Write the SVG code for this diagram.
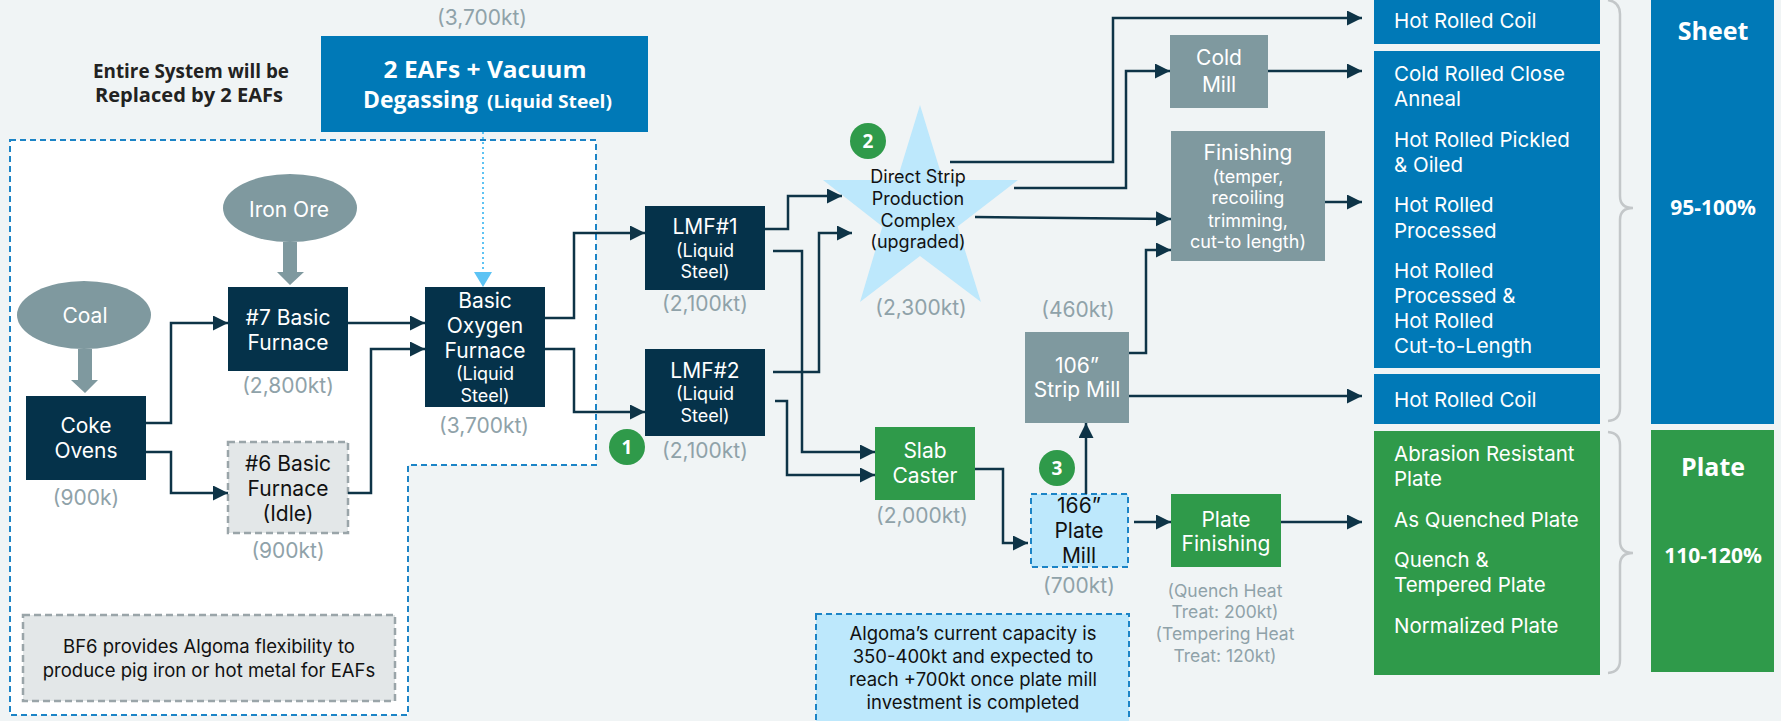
<svg xmlns="http://www.w3.org/2000/svg" width="1781" height="721" viewBox="0 0 1781 721">
<defs>
<style>
.lbl{font-family:Inter,"Noto Sans",sans-serif;font-size:21px;fill:#fff;text-anchor:middle}
.sub{font-size:18px}
.dk{fill:#111}
.cap{font-family:Inter,"Noto Sans",sans-serif;font-size:21px;fill:#8fa2a9;text-anchor:middle}
.capS{font-family:Inter,"Noto Sans",sans-serif;font-size:17.5px;fill:#8fa2a9;text-anchor:middle}
.navy{fill:#05324a}
.grayb{fill:#7f999f}
.green{fill:#2f9a4a}
.blue{fill:#0079b7}
.lblue{fill:#bde8fc}
.conn{fill:none;stroke:#0e3447;stroke-width:2.5;marker-end:url(#ah)}
.prod{font-family:Inter,"Noto Sans",sans-serif;font-size:20.5px;fill:#fff}
.bold{font-family:"Open Sans",sans-serif;font-weight:700;text-anchor:middle}
.num{font-family:"Open Sans",sans-serif;font-weight:700;font-size:19px;fill:#fff;text-anchor:middle}
.note{font-family:Inter,"Noto Sans",sans-serif;font-size:18.5px;fill:#111;text-anchor:middle}
.brace{fill:none;stroke:#c3c7c9;stroke-width:2.5}
.dashB{stroke:#1c84c6;stroke-width:2;stroke-dasharray:6 4}
.dashG{fill:#e3e7e8;stroke:#9aa5a9;stroke-width:2.5;stroke-dasharray:7 4}
</style>
<marker id="ah" markerUnits="userSpaceOnUse" markerWidth="16" markerHeight="16" refX="15" refY="7.5" orient="auto"><path d="M0,0L15,7.5L0,15z" fill="#0e3447"/></marker>
</defs>
<rect width="1781" height="721" fill="#f0f4f5"/>

<g id="system-boundary">
<path d="M10,140 H596 V465 H408 V715 H10 Z" fill="#fff" class="dashB"/>
</g>

<g id="replace-label">
<text class="bold" x="191" y="78" font-size="19.5" fill="#222" textLength="196" lengthAdjust="spacingAndGlyphs">Entire System will be</text>
<text class="bold" x="189" y="102" font-size="19.5" fill="#222" textLength="188" lengthAdjust="spacingAndGlyphs">Replaced by 2 EAFs</text>
</g>

<g id="eaf">
<text class="cap" x="482" y="25">(3,700kt)</text>
<rect x="321" y="36" width="327" height="96" class="blue"/>
<text class="bold" x="485" y="78" font-size="23" fill="#fff" textLength="203" lengthAdjust="spacingAndGlyphs">2 EAFs + Vacuum</text>
<text x="363" y="108" font-family="'Open Sans',sans-serif" font-weight="700" font-size="23" fill="#fff" textLength="115" lengthAdjust="spacingAndGlyphs">Degassing</text>
<text x="487" y="108" font-family="'Open Sans',sans-serif" font-weight="700" font-size="18" fill="#fff" textLength="125" lengthAdjust="spacingAndGlyphs">(Liquid Steel)</text>
</g>

<g id="eaf-link">
<line x1="483" y1="132" x2="483" y2="274" stroke="#5cc3f4" stroke-width="2" stroke-dasharray="2 3"/>
<path d="M474,272 L492,272 L483,287 Z" fill="#5cc3f4"/>
</g>

<g id="coal">
<ellipse cx="84" cy="315" rx="67" ry="34" class="grayb"/>
<text class="lbl" x="85" y="323">Coal</text>
<path d="M78,349 H92 V380 H98 L85,393 L71,380 H78 Z" class="grayb"/>
</g>

<g id="iron-ore">
<ellipse cx="290" cy="208" rx="67" ry="34" class="grayb"/>
<text class="lbl" x="289" y="217">Iron Ore</text>
<path d="M283,242 H297 V272 H304 L290,285 L277,272 H283 Z" class="grayb"/>
</g>

<g id="coke-ovens">
<rect x="26" y="396" width="120" height="84" class="navy"/>
<text class="lbl"><tspan x="86" y="433">Coke</tspan><tspan x="86" y="458">Ovens</tspan></text>
<text class="cap" x="86" y="505">(900k)</text>
</g>

<g id="bf7">
<rect x="228" y="287" width="120" height="84" class="navy"/>
<text class="lbl"><tspan x="288" y="325">#7 Basic</tspan><tspan x="288" y="350">Furnace</tspan></text>
<text class="cap" x="288" y="393">(2,800kt)</text>
</g>

<g id="bf6">
<rect x="228" y="442" width="120" height="91" class="dashG"/>
<text class="lbl dk"><tspan x="288" y="471">#6 Basic</tspan><tspan x="288" y="496">Furnace</tspan><tspan x="288" y="521">(Idle)</tspan></text>
<text class="cap" x="288" y="558">(900kt)</text>
</g>

<g id="bof">
<rect x="425" y="287" width="120" height="120" class="navy"/>
<text class="lbl"><tspan x="485" y="308">Basic</tspan><tspan x="485" y="333">Oxygen</tspan><tspan x="485" y="358">Furnace</tspan><tspan x="485" y="380" class="sub">(Liquid</tspan><tspan x="485" y="402" class="sub">Steel)</tspan></text>
<text class="cap" x="484" y="433">(3,700kt)</text>
</g>

<g id="bf6-note">
<rect x="23" y="615" width="372" height="86" class="dashG"/>
<text class="note"><tspan x="209" y="653">BF6 provides Algoma flexibility to</tspan><tspan x="209" y="677">produce pig iron or hot metal for EAFs</tspan></text>
</g>

<g id="lmf1">
<rect x="645" y="206" width="120" height="84" class="navy"/>
<text class="lbl"><tspan x="705" y="234">LMF#1</tspan><tspan x="705" y="257" class="sub">(Liquid</tspan><tspan x="705" y="278" class="sub">Steel)</tspan></text>
<text class="cap" x="705" y="311">(2,100kt)</text>
</g>

<g id="lmf2">
<rect x="645" y="349" width="120" height="87" class="navy"/>
<text class="lbl"><tspan x="705" y="378">LMF#2</tspan><tspan x="705" y="400" class="sub">(Liquid</tspan><tspan x="705" y="422" class="sub">Steel)</tspan></text>
<text class="cap" x="705" y="458">(2,100kt)</text>
<circle cx="627" cy="447" r="18" class="green"/>
<text class="num" x="627" y="454">1</text>
</g>

<g id="dspc">
<polygon points="920,105 943,180 1018,180 957.6,226.6 981,302 920,256 860,302 882.4,226.6 823,180 897,180" class="lblue"/>
<text class="lbl dk sub"><tspan x="918" y="183">Direct Strip</tspan><tspan x="918" y="205">Production</tspan><tspan x="918" y="227">Complex</tspan><tspan x="918" y="248">(upgraded)</tspan></text>
<text class="cap" x="921" y="315">(2,300kt)</text>
<circle cx="868" cy="141" r="18" class="green"/>
<text class="num" x="868" y="148">2</text>
</g>

<g id="cold-mill">
<rect x="1170" y="35" width="98" height="73" class="grayb"/>
<text class="lbl"><tspan x="1219" y="65">Cold</tspan><tspan x="1219" y="92">Mill</tspan></text>
</g>

<g id="finishing">
<rect x="1171" y="131" width="154" height="130" class="grayb"/>
<text class="lbl"><tspan x="1248" y="160">Finishing</tspan><tspan x="1248" y="183" class="sub">(temper,</tspan><tspan x="1248" y="204" class="sub">recoiling</tspan><tspan x="1248" y="227" class="sub">trimming,</tspan><tspan x="1248" y="248" class="sub">cut-to length)</tspan></text>
</g>

<g id="strip-mill">
<text class="cap" x="1078" y="317">(460kt)</text>
<rect x="1025" y="332" width="104" height="91" class="grayb"/>
<text class="lbl"><tspan x="1077" y="373">106”</tspan><tspan x="1077" y="397">Strip Mill</tspan></text>
</g>

<g id="slab-caster">
<rect x="875" y="427" width="100" height="73" class="green"/>
<text class="lbl"><tspan x="925" y="458">Slab</tspan><tspan x="925" y="483">Caster</tspan></text>
<text class="cap" x="922" y="523">(2,000kt)</text>
</g>

<g id="plate-mill">
<rect x="1031" y="494" width="97" height="73" class="lblue dashB"/>
<text class="lbl dk"><tspan x="1079" y="513">166”</tspan><tspan x="1079" y="538">Plate</tspan><tspan x="1079" y="563">Mill</tspan></text>
<text class="cap" x="1079" y="593">(700kt)</text>
<circle cx="1057" cy="468" r="18" class="green"/>
<text class="num" x="1057" y="475">3</text>
</g>

<g id="plate-finishing">
<rect x="1171" y="494" width="110" height="73" class="green"/>
<text class="lbl"><tspan x="1226" y="527">Plate</tspan><tspan x="1226" y="551">Finishing</tspan></text>
<text class="capS"><tspan x="1225" y="597">(Quench Heat</tspan><tspan x="1225" y="618">Treat: 200kt)</tspan><tspan x="1225" y="640">(Tempering Heat</tspan><tspan x="1225" y="662">Treat: 120kt)</tspan></text>
</g>

<g id="plate-note">
<rect x="816" y="614" width="313" height="120" class="lblue dashB"/>
<text class="note" font-size="19"><tspan x="973" y="640">Algoma’s current capacity is</tspan><tspan x="973" y="663">350-400kt and expected to</tspan><tspan x="973" y="686">reach +700kt once plate mill</tspan><tspan x="973" y="709">investment is completed</tspan></text>
</g>

<g id="hrc-top">
<rect x="1374" y="0" width="226" height="44" class="blue"/>
<text class="prod" x="1394" y="28">Hot Rolled Coil</text>
</g>

<g id="sheet-products">
<rect x="1374" y="51" width="226" height="317" class="blue"/>
<text class="prod"><tspan x="1394" y="81">Cold Rolled Close</tspan><tspan x="1394" y="106">Anneal</tspan><tspan x="1394" y="147">Hot Rolled Pickled</tspan><tspan x="1394" y="172">&amp; Oiled</tspan><tspan x="1394" y="212">Hot Rolled</tspan><tspan x="1394" y="238">Processed</tspan><tspan x="1394" y="278">Hot Rolled</tspan><tspan x="1394" y="303">Processed &amp;</tspan><tspan x="1394" y="328">Hot Rolled</tspan><tspan x="1394" y="353">Cut-to-Length</tspan></text>
</g>

<g id="hrc-bottom">
<rect x="1374" y="374" width="226" height="50" class="blue"/>
<text class="prod" x="1394" y="407">Hot Rolled Coil</text>
</g>

<g id="plate-products">
<rect x="1374" y="431" width="226" height="244" class="green"/>
<text class="prod"><tspan x="1394" y="461">Abrasion Resistant</tspan><tspan x="1394" y="486">Plate</tspan><tspan x="1394" y="527">As Quenched Plate</tspan><tspan x="1394" y="567">Quench &amp;</tspan><tspan x="1394" y="592">Tempered Plate</tspan><tspan x="1394" y="633">Normalized Plate</tspan></text>
</g>

<g id="braces">
<path class="brace" d="M1608,0 Q1620,2 1620,14 V196 Q1620,208 1633,208 Q1620,208 1620,220 V408 Q1620,420 1608,421"/>
<path class="brace" d="M1608,432 Q1620,433 1620,445 V541 Q1620,553 1633,553 Q1620,553 1620,565 V660 Q1620,672 1608,673"/>
</g>

<g id="sheet">
<rect x="1651" y="0" width="123" height="424" class="blue"/>
<text class="bold" x="1713" y="40" font-size="25" fill="#fff">Sheet</text>
<text class="bold" x="1713" y="215" font-size="21" fill="#fff">95-100%</text>
</g>

<g id="plate">
<rect x="1651" y="430" width="123" height="242" class="green"/>
<text class="bold" x="1713" y="476" font-size="25" fill="#fff">Plate</text>
<text class="bold" x="1713" y="563" font-size="21" fill="#fff">110-120%</text>
</g>

<g id="connectors">
<path class="conn" d="M146,423 H171 V323 H228"/>
<path class="conn" d="M146,452 H171 V493 H228"/>
<path class="conn" d="M348,323 H425"/>
<path class="conn" d="M348,493 H371 V349 H425"/>
<path class="conn" d="M545,318 H574 V233 H645"/>
<path class="conn" d="M545,349 H574 V412 H645"/>
<path class="conn" d="M765,229 H788 V196 H842"/>
<path class="conn" d="M773,251 H802 V452 H875"/>
<path class="conn" d="M773,372 H819 V233 H852"/>
<path class="conn" d="M775,401 H787 V475 H875"/>
<path class="conn" d="M950,162 H1113 V18 H1362"/>
<path class="conn" d="M1014,188 H1126 V71 H1170"/>
<path class="conn" d="M975,217 L1171,219"/>
<path class="conn" d="M1268,71 H1362"/>
<path class="conn" d="M1325,202 H1362"/>
<path class="conn" d="M1129,353 H1146 V250 H1171"/>
<path class="conn" d="M1129,396 H1362"/>
<path class="conn" d="M975,469 H1003 V543 H1028"/>
<path class="conn" d="M1086,494 V423"/>
<path class="conn" d="M1134,522 H1171"/>
<path class="conn" d="M1281,522 H1362"/>
</g>
</svg>
